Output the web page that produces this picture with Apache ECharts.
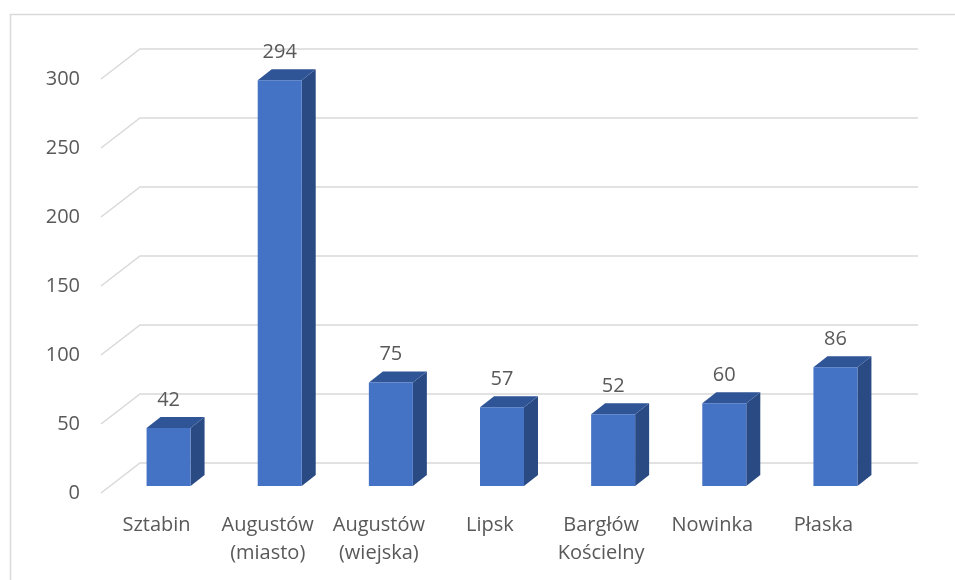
<!DOCTYPE html>
<html>
<head>
<meta charset="utf-8">
<script src="https://cdn.jsdelivr.net/npm/echarts@6/dist/echarts.min.js"></script>
<style>
  html, body { margin: 0; padding: 0; background: #fff; }
  #chart { width: 955px; height: 580px; }
</style>
</head>
<body>
<div id="chart"></div>
<script>
//////////////////////////////////////////////////////////////////
// [ Data ]

var categories = ['Sztabin', 'Augustów\n(miasto)', 'Augustów\n(wiejska)', 'Lipsk', 'Bargłów\nKościelny', 'Nowinka', 'Płaska'];
var values = [42, 294, 75, 57, 52, 60, 86];
var yTicks = [0, 50, 100, 150, 200, 250, 300];

//////////////////////////////////////////////////////////////////
// [ 3D look ]

var DEPTH_X = 39, DEPTH_Y = 30;      // floor depth (front edge -> back wall)
var BAR_W = 44, BAR_SHIFT = 12, BAR_LIFT = 7;
var SIDE_X = 14, SIDE_Y = 11;
var textColor = '#595959';
var fontFamily = '"Open Sans", "Liberation Sans", sans-serif';

var chart = echarts.init(document.getElementById('chart'));

function renderGrid(params, api) {
    var cs = params.coordSys;
    var y = api.coord([0, api.value(0)])[1];
    return {
        type: 'polyline',
        shape: {
            points: [
                [cs.x, y],
                [cs.x + DEPTH_X, y - DEPTH_Y],
                [cs.x + cs.width + DEPTH_X, y - DEPTH_Y]
            ]
        },
        style: { stroke: '#d9d9d9', lineWidth: 1.5, fill: null }
    };
}

function renderBar(params, api) {
    var p0 = api.coord([api.value(0), 0]);
    var p1 = api.coord([api.value(0), api.value(1)]);
    var cx = p0[0] + BAR_SHIFT;
    var x0 = cx - BAR_W / 2, x1 = cx + BAR_W / 2;
    var yb = p0[1] - BAR_LIFT, yt = p1[1] - BAR_LIFT;
    return {
        type: 'group',
        children: [
            {
                type: 'polygon',
                shape: { points: [[x1, yb], [x1 + SIDE_X, yb - SIDE_Y], [x1 + SIDE_X, yt - SIDE_Y], [x1, yt]] },
                style: { fill: '#2a4a84' }
            },
            {
                type: 'polygon',
                shape: { points: [[x0, yt], [x0 + SIDE_X, yt - SIDE_Y], [x1 + SIDE_X, yt - SIDE_Y], [x1, yt]] },
                style: { fill: '#2f5597' }
            },
            {
                type: 'rect',
                shape: { x: x0, y: yt, width: BAR_W, height: yb - yt },
                style: { fill: '#4472c4' }
            },
            {
                type: 'text',
                style: {
                    x: cx, y: yt - SIDE_Y - 7,
                    text: String(api.value(1)),
                    align: 'center', verticalAlign: 'bottom',
                    fill: textColor, font: '20px ' + fontFamily
                }
            }
        ]
    };
}

var options = {
    animation: false,
    graphic: [{
        type: 'rect',
        left: 8, top: 12,
        shape: { width: 1000, height: 1000 },
        style: { fill: null, stroke: '#d9d9d9', lineWidth: 1.5 },
        silent: true
    }],
    grid: { left: 101, right: 76, top: 79, bottom: 87 },
    xAxis: {
        type: 'category',
        data: categories,
        axisLine: { show: false },
        axisTick: { show: false },
        axisLabel: {
            color: textColor, fontSize: 20, lineHeight: 28,
            fontFamily: fontFamily, margin: 18, interval: 0
        }
    },
    yAxis: {
        type: 'value',
        min: 0, max: 300, interval: 50,
        axisLine: { show: false },
        axisTick: { show: false },
        splitLine: { show: false },
        axisLabel: { color: textColor, fontSize: 20, fontFamily: fontFamily, margin: 21 }
    },
    series: [
        {
            type: 'custom',
            renderItem: renderGrid,
            data: yTicks.map(function (t) { return [t]; }),
            encode: { y: 0 },
            silent: true,
            clip: false,
            z: 1
        },
        {
            type: 'custom',
            renderItem: renderBar,
            data: values.map(function (v, i) { return [i, v]; }),
            encode: { x: 0, y: 1 },
            clip: false,
            z: 2
        }
    ]
};

chart.setOption(options);
</script>
</body>
</html>
